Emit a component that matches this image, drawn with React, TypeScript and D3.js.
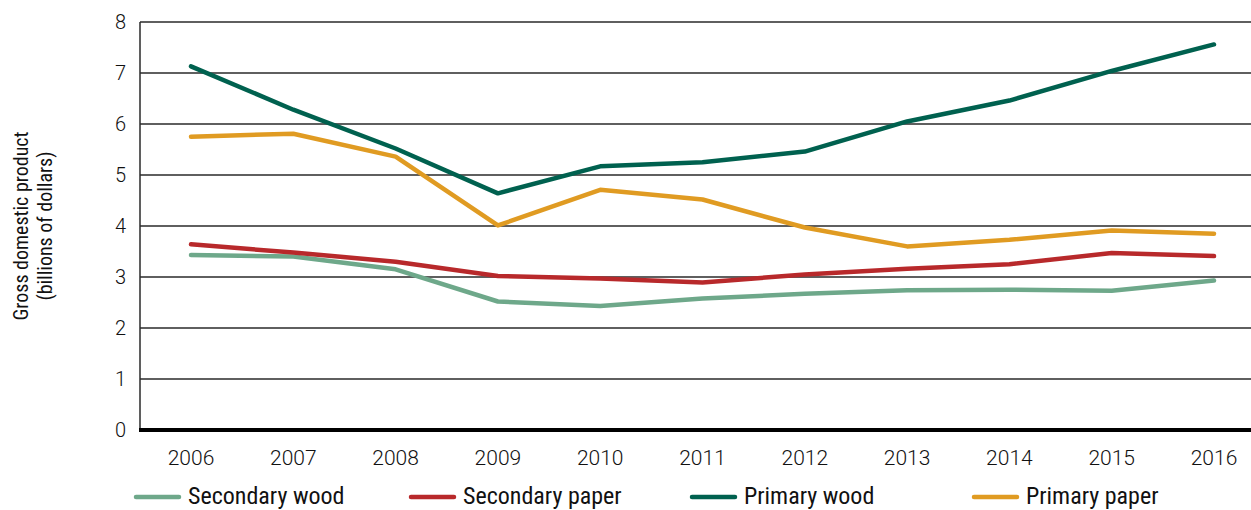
import React from "react";
import * as d3 from "d3";

const years = ["2006", "2007", "2008", "2009", "2010", "2011", "2012", "2013", "2014", "2015", "2016"];
const secondaryWood = [3.43, 3.4, 3.15, 2.52, 2.43, 2.58, 2.67, 2.74, 2.75, 2.73, 2.93];
const secondaryPaper = [3.64, 3.48, 3.3, 3.02, 2.97, 2.89, 3.05, 3.16, 3.25, 3.47, 3.41];
const primaryWood = [7.13, 6.28, 5.52, 4.64, 5.17, 5.25, 5.46, 6.05, 6.46, 7.04, 7.56];
const primaryPaper = [5.75, 5.81, 5.36, 4.01, 4.71, 4.52, 3.97, 3.6, 3.73, 3.91, 3.85];
const yTicks = [0, 1, 2, 3, 4, 5, 6, 7, 8];
const seriesNames = ["Secondary wood", "Secondary paper", "Primary wood", "Primary paper"];
const seriesColors = ["#6ea88a", "#b8292b", "#00614f", "#e09b22"];
const yTitle = ["Gross domestic product", "(billions of dollars)"];

const W = 1251;
const H = 510;
const plotLeft = 140;
const plotRight = 1251;
const plotTop = 22;
const plotBottom = 430;

export default function App() {
  const x = d3.scalePoint<string>().domain(years).range([191, 1214]);
  const y = d3.scaleLinear().domain([0, 8]).range([plotBottom, plotTop]);
  const allSeries = [secondaryWood, secondaryPaper, primaryWood, primaryPaper];
  const line = d3
    .line<number>()
    .x((_, i) => x(years[i]) as number)
    .y((d) => y(d));
  const legendX = [136, 411, 692, 974];
  const tickFont = "Roboto, 'Liberation Sans', sans-serif";
  const legendFont = "'Liberation Sans Narrow', 'Roboto Condensed', 'Liberation Sans', sans-serif";

  return (
    <svg
      width={W}
      height={H}
      style={{ position: "absolute", left: 0, top: 0, background: "#fff" }}
    >
      {yTicks.map((t) =>
        t === 0 ? null : (
          <line
            key={t}
            x1={plotLeft}
            x2={plotRight}
            y1={y(t)}
            y2={y(t)}
            stroke="#2a2a2a"
            strokeWidth={1.3}
          />
        )
      )}
      <line x1={plotLeft} x2={plotLeft} y1={plotTop} y2={plotBottom} stroke="#2a2a2a" strokeWidth={1.5} />
      {yTicks.map((t) => (
        <text
          key={"yl" + t}
          x={126}
          y={y(t)}
          dy="0.36em"
          textAnchor="end"
          fontFamily={tickFont}
          fontWeight={300}
          fontSize={20}
          fill="#111"
        >
          {t}
        </text>
      ))}
      {years.map((yr) => (
        <text
          key={"xl" + yr}
          x={x(yr)}
          y={465}
          textAnchor="middle"
          fontFamily={tickFont}
          fontWeight={300}
          fontSize={21}
          fill="#111"
        >
          {yr}
        </text>
      ))}
      <text
        transform={`translate(28, 226) rotate(-90)`}
        textAnchor="middle"
        fontFamily={legendFont}
        fontSize={20}
        fill="#111"
      >
        <tspan x={0} dy={0}>{yTitle[0]}</tspan>
        <tspan x={0} dy={24}>{yTitle[1]}</tspan>
      </text>
      {allSeries.map((s, k) => (
        <path
          key={"s" + k}
          d={line(s) as string}
          fill="none"
          stroke={seriesColors[k]}
          strokeWidth={4.5}
          strokeLinecap="round"
          strokeLinejoin="round"
        />
      ))}
      <line x1={plotLeft - 1} x2={plotRight} y1={plotBottom} y2={plotBottom} stroke="#000" strokeWidth={4} />
      {seriesNames.map((n, k) => (
        <g key={"lg" + k}>
          <line
            x1={legendX[k]}
            x2={legendX[k] + 43}
            y1={497}
            y2={497}
            stroke={seriesColors[k]}
            strokeWidth={4.5}
            strokeLinecap="round"
          />
          <text
            x={legendX[k] + 52}
            y={504}
            fontFamily={legendFont}
            fontSize={24}
            fill="#111"
          >
            {n}
          </text>
        </g>
      ))}
    </svg>
  );
}
